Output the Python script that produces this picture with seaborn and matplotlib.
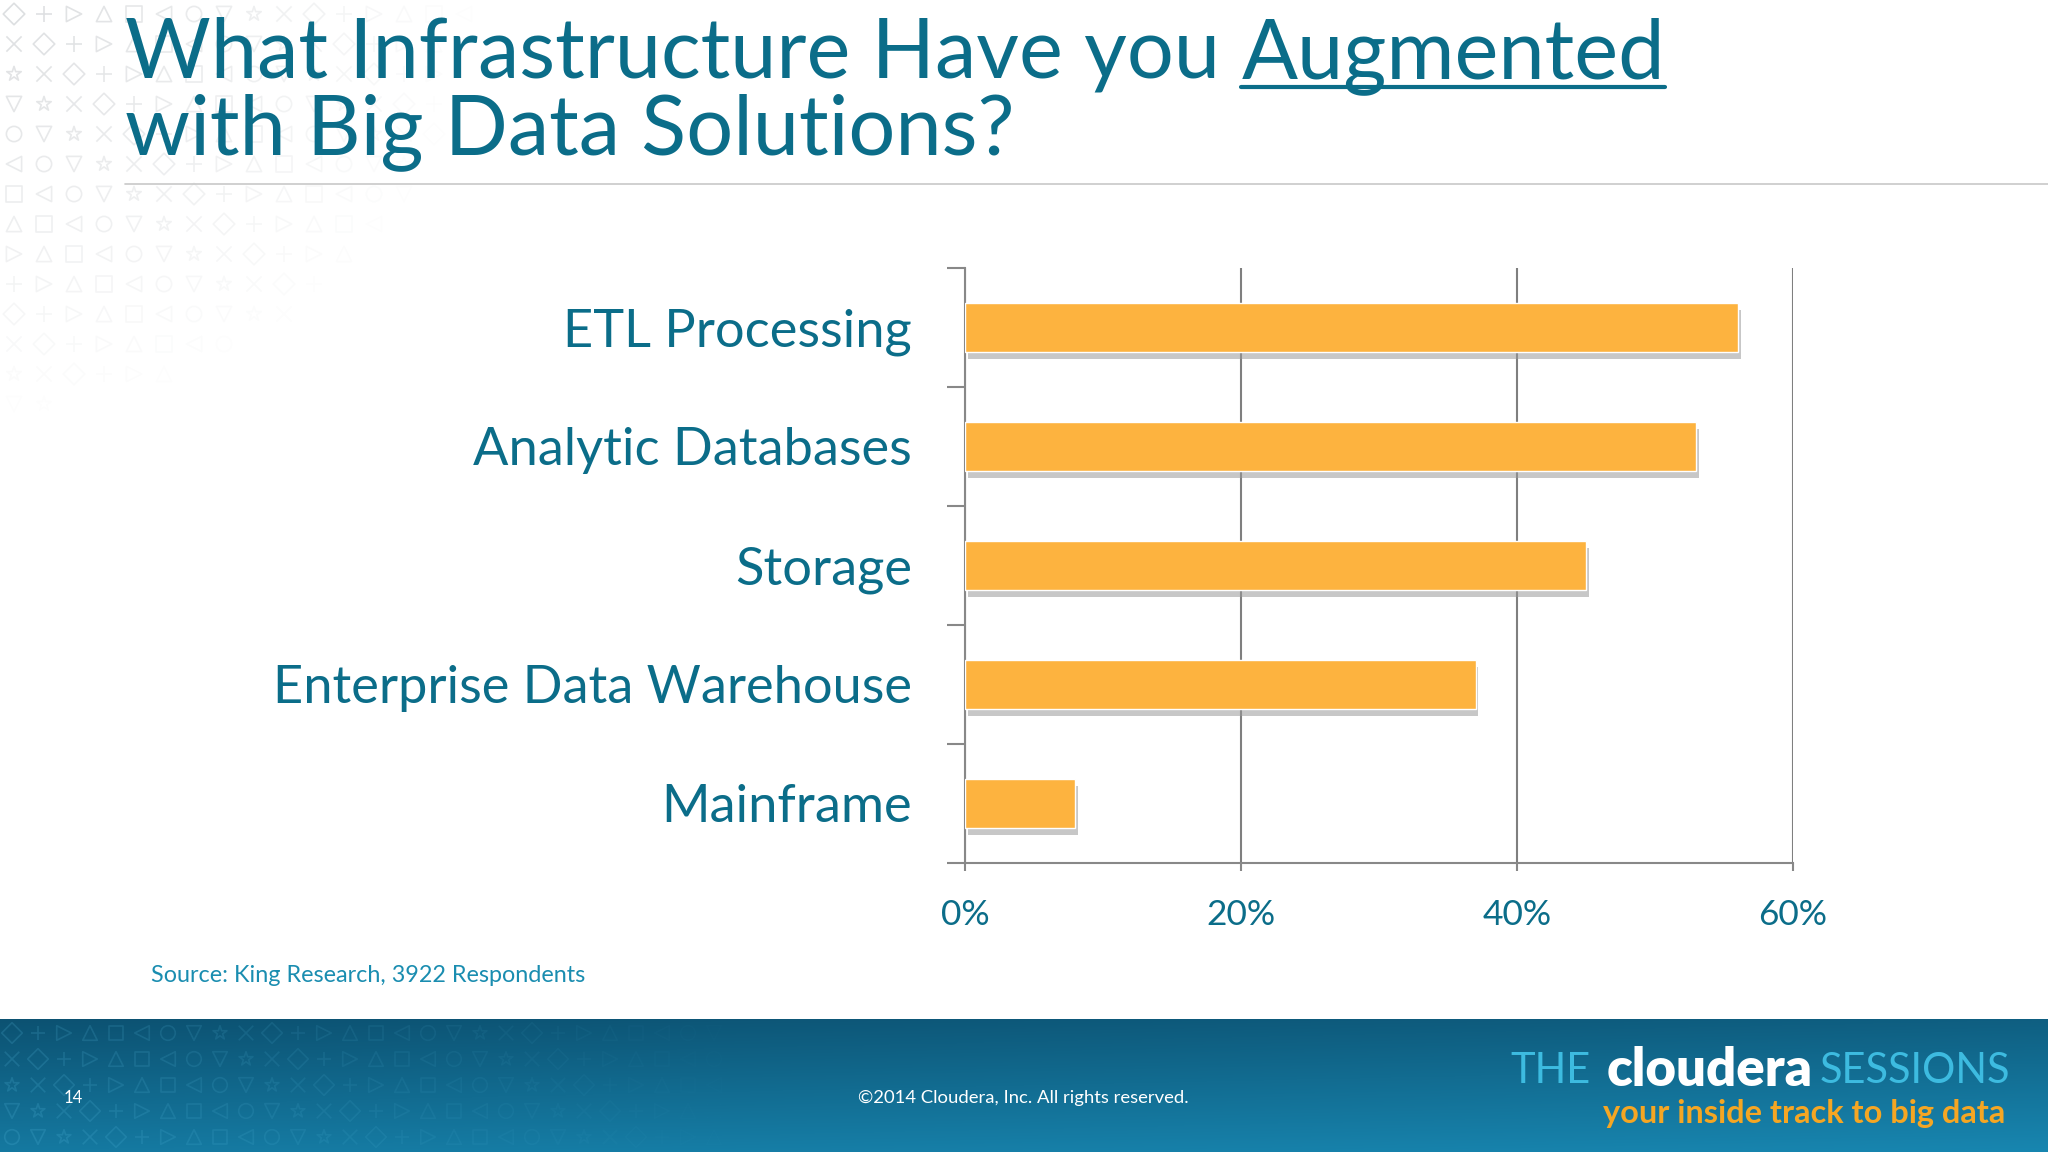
import numpy as np
import matplotlib
matplotlib.use("Agg")
import matplotlib.pyplot as plt
import matplotlib.patheffects as pe
import seaborn as sns

# survey data
categories = ["ETL Processing", "Analytic Databases", "Storage",
              "Enterprise Data Warehouse", "Mainframe"]
shares = [56, 53, 45, 37, 8]
xticks = [0, 20, 40, 60]
xtick_labels = ["0%", "20%", "40%", "60%"]

TEAL = "#0b6d89"
BAR = "#fdb33f"
W, H = 2048, 1152

sns.set_theme(style="white")
plt.rcParams["font.family"] = ["Lato", "DejaVu Sans"]

fig = plt.figure(figsize=(20.48, 11.52), dpi=100)
fig.patch.set_facecolor("white")

# faint symbol pattern in the corners (decoration, drawn as markers)
marks = ["D", "^", "o", "x", ">", "<", "*", "+", "s", "v"]


def pattern(axx, nx, ny, step, x0, y0, fade, alpha, color, size):
    for k, m in enumerate(marks):
        xs, ys, al = [], [], []
        for i in range(nx):
            for j in range(ny):
                if (i * 7 + j * 3) % len(marks) != k:
                    continue
                px, py = x0 + i * step, y0 + j * step
                a = alpha * max(0.0, 1 - fade(px, py))
                if a > 0.01:
                    xs.append(px)
                    ys.append(py)
                    al.append(a)
        if xs:
            rgba = np.array([matplotlib.colors.to_rgba(color)] * len(xs))
            rgba[:, 3] = al
            if m in ("x", "+"):
                axx.scatter(xs, ys, marker=m, s=size, c=rgba, linewidths=1.2)
            else:
                axx.scatter(xs, ys, marker=m, s=size, facecolors="none",
                            edgecolors=rgba, linewidths=1.2)


bg = fig.add_axes([0, 0, 1, 1])
bg.set_xlim(0, W)
bg.set_ylim(H, 0)
bg.set_axis_off()
pattern(bg, 18, 16, 30, 14, 14, lambda x, y: np.hypot(x / 480, y / 420), 0.35,
        "#9aa0a6", 120)

# footer band with gradient
fax = fig.add_axes([0, 0, 1, 133 / H])
gx = np.linspace(0, 1, 256)
gy = np.linspace(0, 1, 64)
GX, GY = np.meshgrid(gx, gy)
top = np.array([0x0c, 0x52, 0x72]) / 255
bot = np.array([0x18, 0x86, 0xb0]) / 255
t = np.clip(0.75 * GY + 0.25 * GX, 0, 1)[..., None]
fax.imshow(top * (1 - t) + bot * t, aspect="auto", extent=[0, W, 133, 0], origin="upper")
fax.set_xlim(0, W)
fax.set_ylim(133, 0)
fax.set_axis_off()
pattern(fax, 30, 5, 26, 12, 14, lambda x, y: x / 780, 0.18, "#5fc4e8", 110)
fax.text(64, 79, "14", color="white", fontsize=12, va="center", ha="left")
fax.text(1023, 79, "©2014 Cloudera, Inc. All rights reserved.", color="white",
         fontsize=13.3, va="center", ha="center")
fax.text(2005, 94, "your inside track to big data", color="#f5a623",
         fontsize=23.4, fontweight="bold", va="center", ha="right")
fax.text(2010, 52, "SESSIONS", color="#3dbbe0", fontsize=30,
         va="center", ha="right")
fax.text(1813, 52, "cloudera", color="white", fontsize=38,
         fontweight="heavy", va="center", ha="right")
fax.text(1591, 52, "THE", color="#3dbbe0", fontsize=30,
         va="center", ha="right")

# title
TS = 59.7
t1 = fig.text(125 / W, 1 - 78 / H, "What Infrastructure Have you ", color=TEAL,
              fontsize=TS, va="baseline", ha="left")
fig.text(125 / W, 1 - 154 / H, "with Big Data Solutions?", color=TEAL,
         fontsize=TS, va="baseline", ha="left")
fig.canvas.draw()
r = fig.canvas.get_renderer()
bb = t1.get_window_extent(r)
t2 = fig.text(bb.x1 / W, 1 - 78 / H, "Augmented", color=TEAL,
              fontsize=TS, va="baseline", ha="left")
bb2 = t2.get_window_extent(r)
fig.add_artist(plt.Line2D([bb2.x0 / W, bb2.x1 / W], [1 - 87 / H] * 2,
                          color=TEAL, lw=3))
fig.add_artist(plt.Line2D([125 / W, 1.0], [1 - 184 / H] * 2,
                          color="#c8c8c8", lw=1.2))

# chart
ax = fig.add_axes([965 / W, 1 - 863 / H, (1793 - 965) / W, (863 - 268) / H])
ax.set_facecolor("none")
sns.barplot(x=shares, y=categories, orient="h", color=BAR, width=0.41,
            saturation=1, ax=ax, zorder=3)
for p in ax.patches:
    p.set_path_effects([pe.SimplePatchShadow(offset=(2, -5), shadow_rgbFace="#9a9a9a", alpha=0.55),
                        pe.Normal()])
ax.set_xlim(0, 60)
ax.set_ylim(len(categories) - 0.5, -0.5)
ax.set_xticks(xticks)
ax.set_xticklabels(xtick_labels)
ax.set_yticks(range(len(categories)))
ax.set_yticks(np.arange(-0.5, len(categories)), minor=True)
ax.tick_params(axis="y", which="major", length=0, pad=38, labelsize=37.7, labelcolor=TEAL)
ax.tick_params(axis="y", which="minor", length=13, width=1.5, color="#888888", left=True)
ax.tick_params(axis="x", length=6, width=1.5, color="#888888", bottom=True,
               pad=20, labelsize=25.5, labelcolor=TEAL)
ax.xaxis.grid(True, color="#7f7f7f", lw=1.5, zorder=0)
ax.set_axisbelow(True)
for s in ["top", "right"]:
    ax.spines[s].set_visible(False)
for s in ["left", "bottom"]:
    ax.spines[s].set_color("#888888")
    ax.spines[s].set_linewidth(1.5)
ax.set_xlabel("")
ax.set_ylabel("")

fig.text(151 / W, 1 - 975 / H, "Source: King Research, 3922 Respondents",
         color="#1a8db0", fontsize=16.8, va="center", ha="left")

fig.savefig("out.png", dpi=100)
